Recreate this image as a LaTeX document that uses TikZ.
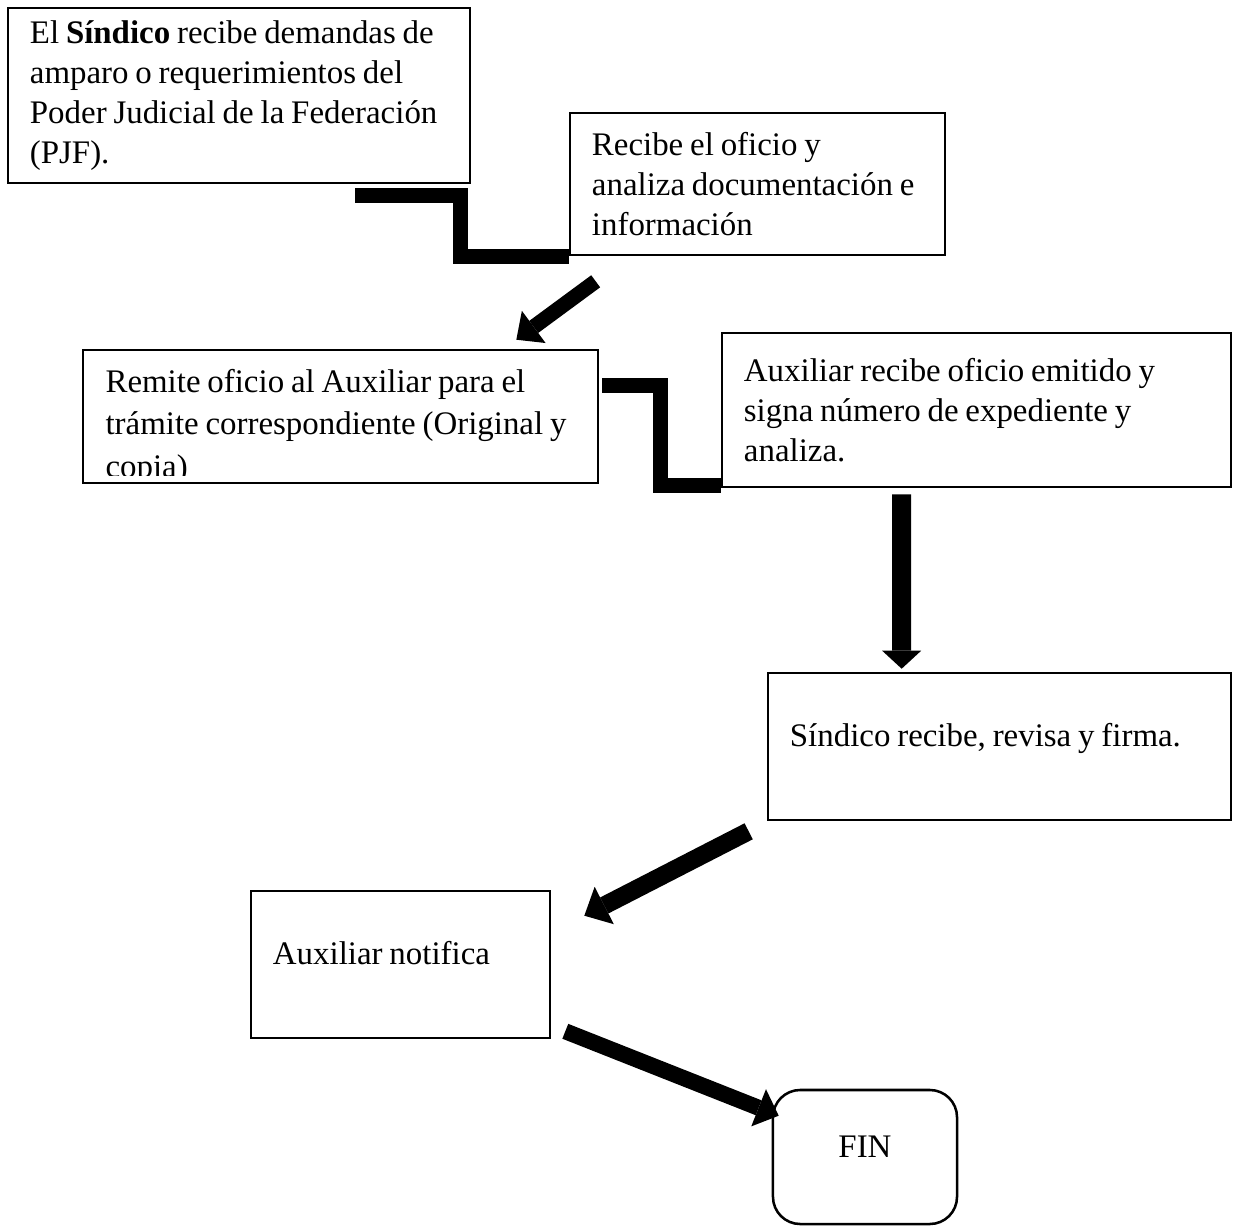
\documentclass[tikz,border=0pt]{standalone}
\usepackage{fontspec}
\setmainfont{Liberation Serif}
\usetikzlibrary{arrows.meta}
\newcommand\apretar{\spaceskip=0.83\fontdimen2\font\relax}
\begin{document}
\begin{tikzpicture}[x=0.0125cm,y=-0.0125cm,
  caja/.style={draw,line width=0.9pt,inner xsep=0.275cm,align=left,font=\fontsize{11.7pt}{14.2pt}\selectfont,execute at begin node=\apretar},
  txt/.style={inner sep=0pt,align=left,font=\fontsize{11.7pt}{15pt}\selectfont,execute at begin node=\apretar},
  escalon/.style={line width=0.1875cm},
  flecha/.style={line width=0.2cm,-{Triangle[width=0.5cm,length=0.27cm,line width=0pt]}}]
\useasboundingbox (0,0) rectangle (1233,1226);
\node[caja,text width=5.225cm,minimum height=2.1875cm] (sin) at (239,95.5) {\mbox{El \textbf{Síndico} recibe demandas de}\\ \mbox{amparo o requerimientos del}\\ \mbox{Poder Judicial de la Federación}\\ (PJF).};
\node[caja,text width=4.1375cm,minimum height=1.775cm] (rec) at (757.5,184) {\mbox{Recibe el oficio y}\\ \mbox{analiza documentación e}\\ información};
\node[caja,minimum width=6.4375cm,minimum height=1.6625cm] (rem) at (340.5,416.5) {};
\begin{scope}
\clip (rem.north west) rectangle ([yshift=0.1125cm]rem.south east);
\node[txt,text width=5.8875cm,anchor=north west] (rem-t) at (105,369) {\mbox{Remite oficio al Auxiliar para el}\\ \mbox{trámite correspondiente (Original y}\\ copia)};
\end{scope}
\node[caja,text width=5.8125cm,minimum height=1.925cm] (aux) at (976.5,410) {\mbox{Auxiliar recibe oficio emitido y}\\ \mbox{signa número de expediente y}\\ analiza.};
\node[caja,text width=5.2375cm,minimum height=1.8375cm,text height=0.3cm,text depth=0.3cm] (fir) at (999.5,746.5) {\mbox{Síndico recibe, revisa y firma.}};
\node[caja,text width=3.1875cm,minimum height=1.8375cm,text height=0.3cm,text depth=0.3cm] (notif) at (400.5,964.5) {Auxiliar notifica};
\node[caja,align=center,rounded corners=0.34cm,minimum width=2.3cm,minimum height=1.675cm,text height=0.3cm,text depth=0.3cm] (fin) at (865,1157) {FIN};
\coordinate (e1) at (355,195);
\draw[escalon] (e1) -| ([xshift=-1.35cm]rec.south west) -- (rec.south west);
\coordinate (e2) at (602,385);
\coordinate (e2b) at ([yshift=0.04cm]aux.south west);
\draw[escalon] (e2) -| ([xshift=-0.75cm]e2b) -- (e2b);
\draw[flecha,line width=0.1875cm] ([shift={(27,25)}]rec.south west) -- ([shift={(-83,-9)}]rem.north east);
\draw[flecha,line width=0.2375cm,-{Triangle[width=0.4875cm,length=0.225cm,line width=0pt]}] ([shift={(181,6)}]aux.south west) -- ([shift={(135,-3)}]fir.north west);
\draw[flecha,line width=0.225cm,-{Triangle[width=0.525cm,length=0.28cm,line width=0pt]}] ([shift={(-18,10)}]fir.south west) -- ([shift={(33,26)}]notif.north east);
\draw[flecha] ([shift={(14,-8)}]notif.south east) -- ([shift={(7,27)}]fin.north west);
\end{tikzpicture}
\end{document}
